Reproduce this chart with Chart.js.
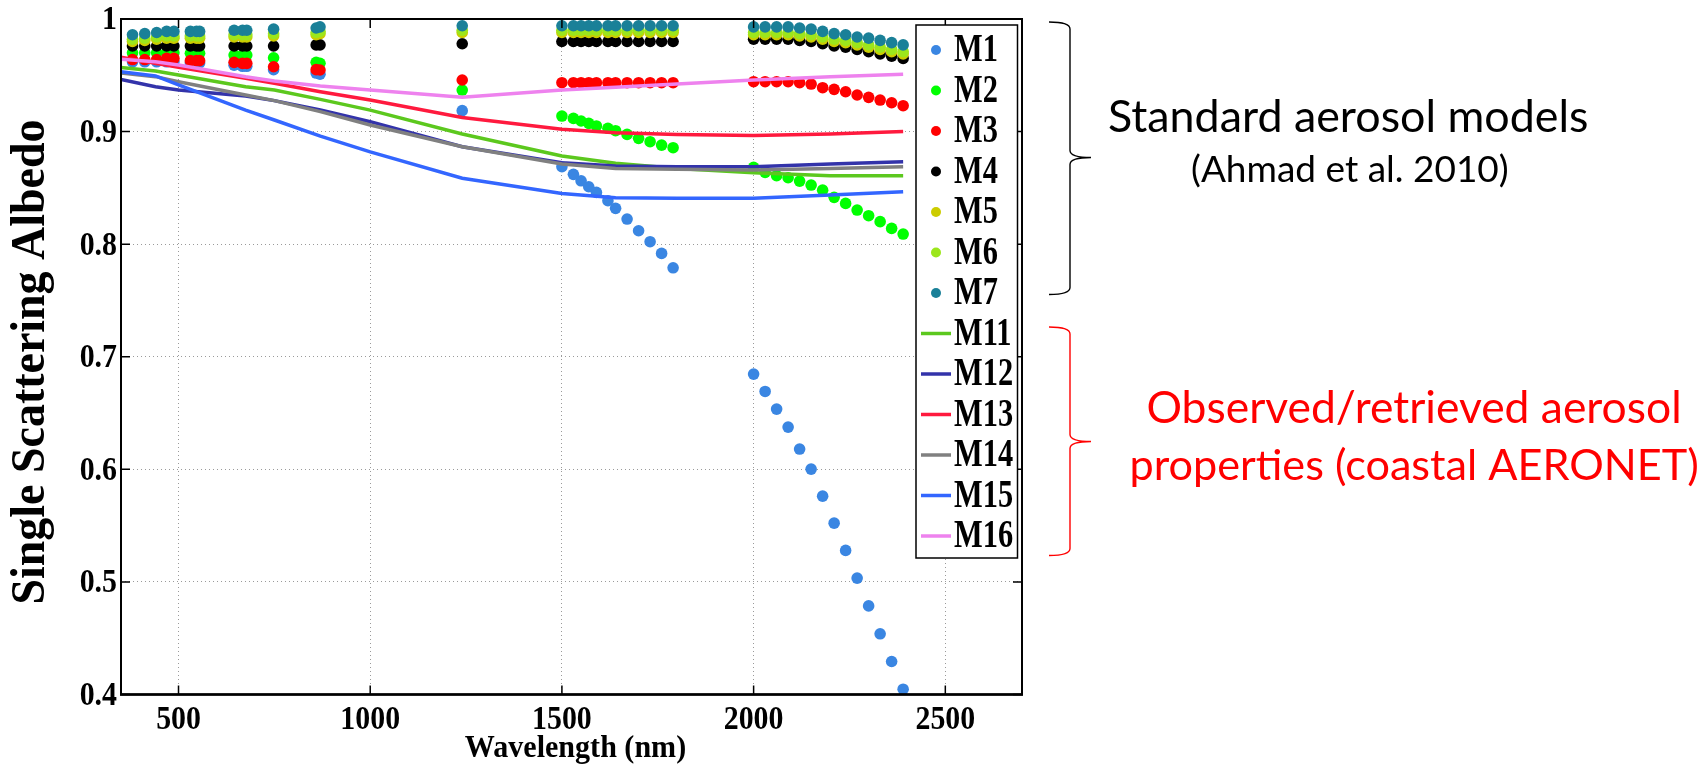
<!DOCTYPE html>
<html>
<head>
<meta charset="utf-8">
<script src="https://cdn.jsdelivr.net/npm/chart.js@4.4.1/dist/chart.umd.min.js"></script>
<style>
  html, body { margin: 0; padding: 0; background: #fff; }
</style>
</head>
<body>
<canvas id="chart" width="1708" height="767"></canvas>
<script>
// Axis ticks
const xTicks = [500, 1000, 1500, 2000, 2500]
const xTickLabels = ["500", "1000", "1500", "2000", "2500"]
const yTicks = [0.4, 0.5, 0.6, 0.7, 0.8, 0.9, 1]
const yTickLabels = ["0.4", "0.5", "0.6", "0.7", "0.8", "0.9", "1"]
const xTitle = "Wavelength (nm)"
const yTitle = "Single Scattering Albedo"

// Standard aerosol models (dots), wavelength in nm
const wlModel = [380, 412, 443, 469, 488, 531, 547, 555, 645, 667, 678, 748, 859, 869, 1240,
  1500, 1530, 1550, 1570, 1590, 1620, 1640, 1670, 1700, 1730, 1760, 1790,
  2000, 2030, 2060, 2090, 2120, 2150, 2180, 2210, 2240, 2270, 2300, 2330, 2360, 2390]

const m1 = [0.962, 0.962, 0.962, 0.962, 0.962, 0.961, 0.961, 0.961, 0.959, 0.958, 0.958, 0.955, 0.952, 0.951, 0.9186,
  0.8688, 0.862, 0.8563, 0.851, 0.846, 0.8386, 0.8318, 0.8223, 0.8119, 0.8022, 0.7918, 0.779,
  0.6846, 0.6692, 0.6535, 0.6375, 0.618, 0.6002, 0.5762, 0.5522, 0.528, 0.5034, 0.4787, 0.4539, 0.4293, 0.4047]
const m2 = [0.970, 0.970, 0.970, 0.970, 0.970, 0.9695, 0.9695, 0.9695, 0.968, 0.968, 0.968, 0.9656, 0.9615, 0.9606, 0.9369,
  0.9138, 0.9117, 0.9094, 0.9073, 0.905, 0.9029, 0.9008, 0.8975, 0.894, 0.891, 0.888, 0.8857,
  0.8682, 0.8638, 0.8608, 0.859, 0.856, 0.8525, 0.848, 0.8416, 0.8362, 0.8303, 0.8253, 0.82, 0.814, 0.809]
const m3 = [0.964, 0.964, 0.964, 0.965, 0.965, 0.963, 0.963, 0.963, 0.9615, 0.9606, 0.9606, 0.9576, 0.955, 0.9547, 0.9458,
  0.9434, 0.9434, 0.9434, 0.9434, 0.9434, 0.9434, 0.9434, 0.9434, 0.9434, 0.9434, 0.9434, 0.9434,
  0.9443, 0.9443, 0.9443, 0.9443, 0.9434, 0.9422, 0.939, 0.9375, 0.9354, 0.9325, 0.9304, 0.928, 0.9256, 0.923]
const m4 = [0.976, 0.976, 0.976, 0.976, 0.976, 0.976, 0.976, 0.976, 0.976, 0.976, 0.976, 0.976, 0.977, 0.977, 0.978,
  0.980, 0.980, 0.980, 0.980, 0.980, 0.980, 0.980, 0.980, 0.980, 0.980, 0.980, 0.980,
  0.982, 0.982, 0.982, 0.982, 0.981, 0.980, 0.978, 0.976, 0.975, 0.973, 0.971, 0.969, 0.967, 0.965]
const m5 = [0.980, 0.981, 0.982, 0.983, 0.983, 0.983, 0.983, 0.983, 0.984, 0.984, 0.984, 0.985, 0.986, 0.987, 0.988,
  0.988, 0.988, 0.988, 0.988, 0.988, 0.988, 0.988, 0.988, 0.988, 0.988, 0.988, 0.988,
  0.986, 0.986, 0.986, 0.986, 0.985, 0.984, 0.982, 0.980, 0.979, 0.977, 0.975, 0.973, 0.971, 0.969]
const m6 = [0.982, 0.983, 0.984, 0.985, 0.985, 0.985, 0.985, 0.985, 0.986, 0.986, 0.986, 0.987, 0.988, 0.989, 0.990,
  0.990, 0.990, 0.990, 0.990, 0.990, 0.990, 0.990, 0.990, 0.990, 0.990, 0.990, 0.990,
  0.988, 0.988, 0.988, 0.988, 0.987, 0.986, 0.984, 0.982, 0.981, 0.979, 0.977, 0.975, 0.973, 0.971]
const m7 = [0.986, 0.987, 0.988, 0.989, 0.989, 0.989, 0.989, 0.989, 0.990, 0.990, 0.990, 0.991, 0.992, 0.993, 0.994,
  0.994, 0.994, 0.994, 0.994, 0.994, 0.994, 0.994, 0.994, 0.994, 0.994, 0.994, 0.994,
  0.993, 0.993, 0.993, 0.993, 0.992, 0.991, 0.989, 0.987, 0.986, 0.984, 0.983, 0.981, 0.979, 0.977]

// Observed / retrieved aerosol properties (lines)
const wlObs = [350, 440, 500, 675, 750, 870, 1000, 1240, 1500, 1640, 1800, 2000, 2200, 2390]
const m11 = [0.957, 0.9538, 0.9502, 0.9398, 0.9369, 0.9286, 0.9191, 0.8978, 0.8783, 0.8718, 0.8673, 0.8635, 0.8608, 0.8608]
const m12 = [0.9464, 0.9398, 0.9369, 0.9316, 0.9275, 0.9191, 0.9088, 0.8865, 0.8723, 0.8694, 0.8688, 0.8688, 0.8712, 0.8732]
const m13 = [0.966, 0.9606, 0.9571, 0.9473, 0.9429, 0.9354, 0.928, 0.9126, 0.902, 0.899, 0.8975, 0.8966, 0.8978, 0.900]
const m14 = [0.952, 0.9488, 0.9443, 0.9325, 0.9275, 0.9177, 0.9058, 0.8865, 0.8712, 0.8673, 0.8665, 0.8658, 0.8673, 0.8688]
const m15 = [0.9532, 0.9494, 0.9414, 0.9191, 0.9103, 0.896, 0.882, 0.8585, 0.8451, 0.8413, 0.8407, 0.8407, 0.8436, 0.8466]
const m16 = [0.9642, 0.9621, 0.9591, 0.9487, 0.9449, 0.9405, 0.9369, 0.9304, 0.9369, 0.9393, 0.9422, 0.9458, 0.9487, 0.9509]

const serif = "'Liberation Serif', 'Times New Roman', serif"

function pts(wl, vals) {
  return wl.map((w, i) => ({ x: w, y: vals[i] }))
}

function dotSet(label, vals, color) {
  return {
    label, data: pts(wlModel, vals), showLine: false,
    pointRadius: 5.8, pointHoverRadius: 5.8, pointBorderWidth: 0,
    pointBackgroundColor: color, backgroundColor: color, borderColor: color,
  }
}

function lineSet(label, vals, color) {
  return {
    label, data: pts(wlObs, vals), showLine: true,
    pointRadius: 0, borderWidth: 3.5, borderColor: color, backgroundColor: color,
    tension: 0, fill: false,
  }
}

const datasets = [
  dotSet("M1", m1, "#3a86e2"),
  dotSet("M2", m2, "#00ff00"),
  dotSet("M3", m3, "#ff0000"),
  dotSet("M4", m4, "#000000"),
  dotSet("M5", m5, "#cccc00"),
  dotSet("M6", m6, "#9ce61c"),
  dotSet("M7", m7, "#1a8098"),
  lineSet("M11", m11, "#5cc81e"),
  lineSet("M12", m12, "#3333aa"),
  lineSet("M13", m13, "#ff1a3e"),
  lineSet("M14", m14, "#808080"),
  lineSet("M15", m15, "#3366ff"),
  lineSet("M16", m16, "#ee82ee"),
]
// later series drawn on top
datasets.forEach((d, i) => { d.order = datasets.length - i })

// Draw horizontally squeezed text (the original figure text is narrow)
function squeezed(ctx, text, x, y, font, sx, align, baseline, rot) {
  ctx.save()
  ctx.translate(x, y)
  if (rot) ctx.rotate(rot)
  ctx.scale(sx, 1)
  ctx.font = font
  ctx.textAlign = align
  ctx.textBaseline = baseline
  ctx.fillStyle = "#000"
  ctx.fillText(text, 0, 0)
  ctx.restore()
}

// Plot frame with inward ticks, plus tick labels and axis titles
const framePlugin = {
  id: "frame",
  afterDatasetsDraw(chart) {
    const { ctx, chartArea: a, scales: { x, y } } = chart
    ctx.save()
    ctx.strokeStyle = "#000"
    ctx.lineWidth = 2
    ctx.strokeRect(a.left, a.top, a.right - a.left, a.bottom - a.top)
    ctx.lineWidth = 2.6
    ctx.beginPath()
    ctx.moveTo(a.left - 1, a.bottom); ctx.lineTo(a.right + 1, a.bottom)
    ctx.stroke()
    ctx.lineWidth = 1.5
    ctx.beginPath()
    xTicks.forEach((v) => {
      const px = x.getPixelForValue(v)
      ctx.moveTo(px, a.bottom); ctx.lineTo(px, a.bottom - 9)
      ctx.moveTo(px, a.top); ctx.lineTo(px, a.top + 9)
    })
    yTicks.forEach((v) => {
      const py = y.getPixelForValue(v)
      ctx.moveTo(a.left, py); ctx.lineTo(a.left + 9, py)
      ctx.moveTo(a.right, py); ctx.lineTo(a.right - 9, py)
    })
    ctx.stroke()
    ctx.restore()

    const tickFont = "bold 34.5px " + serif
    xTicks.forEach((v, i) => {
      squeezed(ctx, xTickLabels[i], x.getPixelForValue(v), a.bottom + 25.5, tickFont, 0.865, "center", "middle")
    })
    yTicks.forEach((v, i) => {
      squeezed(ctx, yTickLabels[i], a.left - 4, y.getPixelForValue(v) + 1.5, tickFont, 0.865, "right", "middle")
    })
    squeezed(ctx, xTitle, (a.left + a.right) / 2 + 4, 757, "bold 31px " + serif, 0.97, "center", "alphabetic")
    ctx.font = "bold 49px " + serif
    const sy = 485 / ctx.measureText(yTitle).width
    squeezed(ctx, yTitle, 31, 362, "bold 49px " + serif, sy, "center", "middle", -Math.PI / 2)
  },
}

// Legend box inside the plot, top right
const legendPlugin = {
  id: "boxLegend",
  afterDraw(chart) {
    const ctx = chart.ctx
    const left = 916, top = 25, right = 1017.5, bottom = 558
    ctx.save()
    ctx.fillStyle = "#fff"
    ctx.fillRect(left, top, right - left, bottom - top)
    ctx.strokeStyle = "#000"
    ctx.lineWidth = 1.5
    ctx.strokeRect(left, top, right - left, bottom - top)
    chart.data.datasets.forEach((d, i) => {
      const cy = 50 + i * 40.5
      if (d.showLine) {
        ctx.strokeStyle = d.borderColor
        ctx.lineWidth = 3.5
        ctx.beginPath()
        ctx.moveTo(921, cy); ctx.lineTo(951, cy)
        ctx.stroke()
      } else {
        ctx.fillStyle = d.pointBackgroundColor
        ctx.beginPath()
        ctx.arc(936, cy, 5, 0, Math.PI * 2)
        ctx.fill()
      }
      squeezed(ctx, d.label, 954, cy + 1, "bold 40px " + serif, 0.76, "left", "middle")
    })
    ctx.restore()
  },
}

// Braces and notes on the right
const notes = [
  { text: "Standard aerosol models", x: 1108, y: 131.5, w: 481, color: "#000" },
  { text: "(Ahmad et al. 2010)", x: 1191, y: 181.5, w: 318, color: "#000" },
  { text: "Observed/retrieved aerosol", x: 1146.5, y: 423, w: 535, color: "#ff0000" },
  { text: "properties (coastal AERONET)", x: 1129.5, y: 479.6, w: 570, color: "#ff0000" },
]
const braces = [
  { top: 22, tip: 157.5, bottom: 294.5, color: "#000" },
  { top: 327, tip: 441.5, bottom: 555.5, color: "#ff0000" },
]

const notesPlugin = {
  id: "notes",
  afterDraw(chart) {
    const ctx = chart.ctx
    ctx.save()
    braces.forEach((b) => {
      const xl = 1049, xm = 1070, xt = 1091
      ctx.strokeStyle = b.color
      ctx.lineWidth = 1.4
      ctx.beginPath()
      ctx.moveTo(xl, b.top)
      ctx.quadraticCurveTo(xm, b.top, xm, b.top + 7)
      ctx.lineTo(xm, b.tip - 7)
      ctx.quadraticCurveTo(xm, b.tip, xt, b.tip)
      ctx.moveTo(xt, b.tip)
      ctx.quadraticCurveTo(xm, b.tip, xm, b.tip + 7)
      ctx.lineTo(xm, b.bottom - 7)
      ctx.quadraticCurveTo(xm, b.bottom, xl, b.bottom)
      ctx.stroke()
    })
    notes.forEach((n) => {
      ctx.font = "100px Lato"
      const size = (100 * n.w) / ctx.measureText(n.text).width
      ctx.font = size.toFixed(1) + "px Lato"
      ctx.fillStyle = n.color
      ctx.textBaseline = "alphabetic"
      ctx.fillText(n.text, n.x, n.y)
    })
    ctx.restore()
  },
}

new Chart(document.getElementById("chart"), {
  type: "scatter",
  data: { datasets },
  options: {
    responsive: false,
    animation: false,
    devicePixelRatio: 1,
    layout: { padding: { left: 0, top: 19, right: 686, bottom: 0 } },
    plugins: { legend: { display: false }, tooltip: { enabled: false } },
    scales: {
      x: {
        type: "linear",
        min: 350,
        max: 2700,
        afterBuildTicks: (s) => { s.ticks = xTicks.map((v) => ({ value: v })) },
        afterFit: (s) => { s.height = 72.5 },
        grid: { color: "#9a9a9a", lineWidth: 1, drawTicks: false },
        border: { display: false, dash: [1, 3] },
        ticks: { display: false },
      },
      y: {
        type: "linear",
        min: 0.4,
        max: 1,
        afterBuildTicks: (s) => { s.ticks = yTicks.map((v) => ({ value: v })) },
        afterFit: (s) => { s.width = 121 },
        grid: { color: "#9a9a9a", lineWidth: 1, drawTicks: false },
        border: { display: false, dash: [1, 3] },
        ticks: { display: false },
      },
    },
  },
  plugins: [framePlugin, legendPlugin, notesPlugin],
})
</script>
</body>
</html>
